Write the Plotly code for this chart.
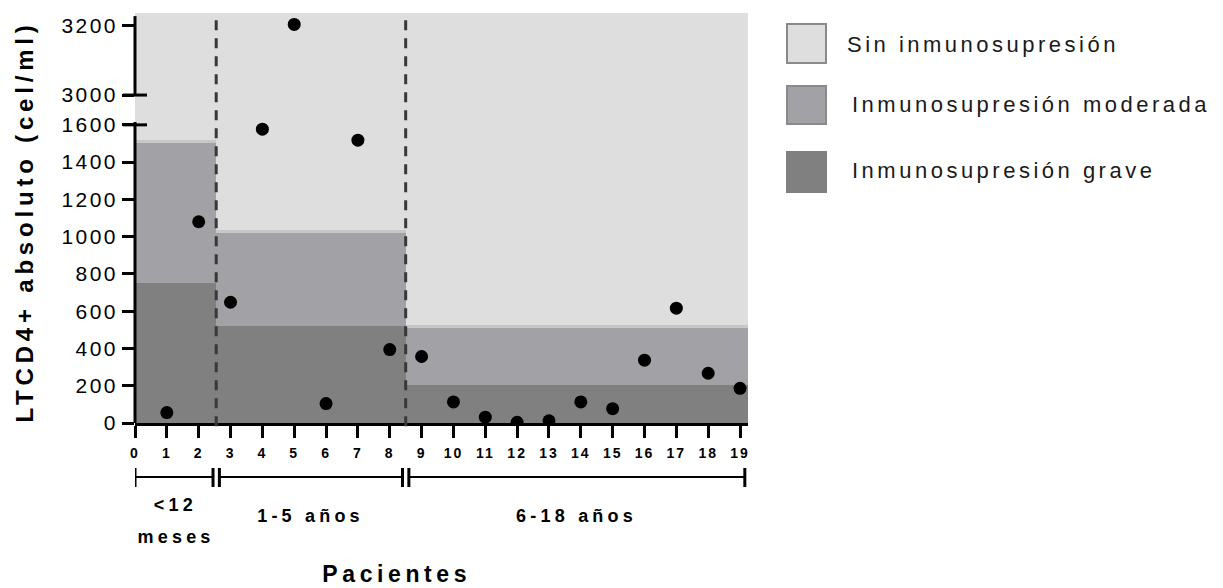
import json
import plotly.graph_objects as go

# ---------------- data ----------------
patients = list(range(1, 20))
cd4_values = [56, 1080, 648, 1577, 3204, 104, 1518, 394, 357, 113,
              31, 4, 12, 113, 77, 337, 616, 267, 186]

group_label_lines = [["&lt;12", "meses"], ["1-5 años"], ["6-18 años"]]
group_start = [0, 2.55, 8.5]
group_end = [2.55, 8.5, 19.25]
severe_top = [750, 520, 205]
moderate_top = [1505, 1020, 510]

x_ticks = list(range(0, 20))
y_ticks_low = [0, 200, 400, 600, 800, 1000, 1200, 1400, 1600]
y_ticks_high = [3000, 3200]

legend_labels = ["Sin inmunosupresión", "Inmunosupresión moderada", "Inmunosupresión grave"]

# ---------------- styles ----------------
C_SIN = "#dedede"
C_MOD = "#a2a1a5"
C_GRAVE = "#808080"
C_STRIP = "#c7c7c9"
STRIP_H = 16
FONT = "Liberation Sans, Arial, sans-serif"

LOW_RANGE = [0, 1615]
HIGH_RANGE = [2922, 3237]
SPLIT = 0.734
BREAK = 3000

centers = [(a + b) / 2 for a, b in zip(group_start, group_end)]
widths = [b - a for a, b in zip(group_start, group_end)]
mod_h = [m - s for m, s in zip(moderate_top, severe_top)]
sin_base = [m + STRIP_H for m in moderate_top]

fig = go.Figure()
bar_common = dict(x=centers, width=widths, showlegend=False, hoverinfo="skip",
                  marker_line_width=0)
fig.add_trace(go.Bar(base=[0] * 3, y=severe_top, marker_color=C_GRAVE, **bar_common))
fig.add_trace(go.Bar(base=severe_top, y=mod_h, marker_color=C_MOD, **bar_common))
fig.add_trace(go.Bar(base=moderate_top, y=[STRIP_H] * 3, marker_color=C_STRIP, **bar_common))
fig.add_trace(go.Bar(base=sin_base, y=[LOW_RANGE[1] + 500 - b for b in sin_base],
                     marker_color=C_SIN, **bar_common))
fig.add_trace(go.Bar(base=[HIGH_RANGE[0] - 50] * 3, y=[HIGH_RANGE[1] - HIGH_RANGE[0] + 100] * 3,
                     marker_color=C_SIN, yaxis="y2", **bar_common))

low_x = [p for p, v in zip(patients, cd4_values) if v < BREAK]
low_y = [v for v in cd4_values if v < BREAK]
high_x = [p for p, v in zip(patients, cd4_values) if v >= BREAK]
high_y = [v for v in cd4_values if v >= BREAK]
fig.add_trace(go.Scatter(x=low_x, y=low_y, mode="markers", showlegend=False,
                         marker=dict(size=13, color="black")))
fig.add_trace(go.Scatter(x=high_x, y=high_y, mode="markers", showlegend=False, yaxis="y2",
                         marker=dict(size=13, color="black")))

shapes = []
# broken y-axis lines
shapes.append(dict(type="line", xref="paper", yref="y", x0=0, x1=0, y0=0, y1=LOW_RANGE[1],
                   line=dict(color="black", width=3)))
shapes.append(dict(type="line", xref="paper", yref="y2", x0=0, x1=0, y0=BREAK, y1=3228,
                   line=dict(color="black", width=3)))
bw = 12 / 613
shapes.append(dict(type="line", xref="paper", yref="y", x0=-bw, x1=bw, y0=1600, y1=1600,
                   line=dict(color="black", width=3)))
shapes.append(dict(type="line", xref="paper", yref="y2", x0=-bw, x1=bw, y0=BREAK, y1=BREAK,
                   line=dict(color="black", width=3)))
# dashed group separators
for xs in group_start[1:]:
    shapes.append(dict(type="line", xref="x", yref="paper", x0=xs, x1=xs, y0=-0.008, y1=0.992,
                       layer="above", line=dict(color="#383838", width=3, dash="10px,8px")))
# group brackets
GAP = 0.1
yb, yc0, yc1 = -0.1317, -0.1098, -0.1561
for i in range(3):
    b0 = group_start[i] + (GAP if i > 0 else 0)
    b1 = group_end[i] - GAP
    shapes.append(dict(type="line", xref="x", yref="paper", x0=b0, x1=b1, y0=yb, y1=yb,
                       line=dict(color="black", width=2)))
    for bx in (b0, b1):
        shapes.append(dict(type="line", xref="x", yref="paper", x0=bx, x1=bx, y0=yc0, y1=yc1,
                           line=dict(color="black", width=3)))
# manual legend swatches
sw_x0, sw_x1 = (787 - 135) / 613, (826 - 135) / 613
sw_y = [(24, 63), (86, 124), (152, 192)]
sw_fill = [C_SIN, C_MOD, C_GRAVE]
sw_line = ["#8a8a8a", "#8a8a8a", C_GRAVE]
for (t, b), f, lc in zip(sw_y, sw_fill, sw_line):
    shapes.append(dict(type="rect", xref="paper", yref="paper", x0=sw_x0, x1=sw_x1,
                       y0=(423 - b) / 410, y1=(423 - t) / 410, fillcolor=f,
                       line=dict(color=lc, width=2)))

annotations = []
spacings = []
annotations.append(dict(text="LTCD4+ absoluto (cel/ml)", xref="paper", yref="paper",
                        x=(24 - 135) / 613, y=(423 - 222) / 410, textangle=-90, showarrow=False,
                        xanchor="center", yanchor="middle",
                        font=dict(size=24, family=FONT, color="black", weight="bold")))
spacings.append(4.8)
annotations.append(dict(text="Pacientes", xref="paper", yref="paper",
                        x=(396 - 135) / 613, y=(423 - 574) / 410, showarrow=False,
                        xanchor="center", yanchor="middle",
                        font=dict(size=23, family=FONT, color="black", weight="bold")))
spacings.append(4.6)
for i, lines in enumerate(group_label_lines):
    ys = [-0.2, -0.278] if len(lines) == 2 else [-0.226]
    for ln, yy in zip(lines, ys):
        annotations.append(dict(text=ln, xref="x", yref="paper", x=centers[i], y=yy,
                                showarrow=False, xanchor="center", yanchor="middle",
                                font=dict(size=18, family=FONT, color="black", weight="bold")))
        spacings.append(4.2)
leg_x = [845, 850, 850]
leg_y = [45, 105, 170]
for lab, lx, ly in zip(legend_labels, leg_x, leg_y):
    annotations.append(dict(text=lab, xref="paper", yref="paper", x=(lx - 135) / 613,
                            y=(423 - ly) / 410, showarrow=False, xanchor="left",
                            yanchor="middle", align="left",
                            font=dict(size=22, family=FONT, color="#1a1a1a")))
    spacings.append(3.5)

axis_tick = dict(ticks="outside", ticklen=12, tickwidth=3, tickcolor="black",
                 showgrid=False, zeroline=False, showline=False, automargin=False)
fig.update_layout(
    width=1223, height=588, autosize=False,
    margin=dict(l=135, r=475, t=13, b=165, pad=0, autoexpand=False),
    paper_bgcolor="white", plot_bgcolor="white",
    barmode="overlay", bargap=0,
    font=dict(family=FONT, color="black"),
    xaxis=dict(range=[0, 19.25], tickvals=x_ticks, ticktext=[str(t) for t in x_ticks],
               ticks="outside", ticklen=12, tickwidth=3, tickcolor="black", automargin=False,
               showline=True, linewidth=3, linecolor="black", showgrid=False, zeroline=False,
               ticklabelstandoff=3,
               tickfont=dict(size=14, family=FONT, color="black", weight="bold")),
    yaxis=dict(domain=[0, SPLIT], range=LOW_RANGE, tickvals=y_ticks_low,
               ticklabelstandoff=0,
               tickfont=dict(size=21, family=FONT, color="black"), **axis_tick),
    yaxis2=dict(domain=[SPLIT, 1], range=HIGH_RANGE, tickvals=y_ticks_high, anchor="x",
                ticklabelstandoff=0,
                tickfont=dict(size=21, family=FONT, color="black"), **axis_tick),
    shapes=shapes, annotations=annotations,
)

css = "html,body{margin:0;padding:0;overflow:hidden}"
css += ".ytick text, .y2tick text{letter-spacing:2.4px}.xtick text{letter-spacing:2px}"
css += "".join('.annotation[data-index="%d"] text{letter-spacing:%spx}' % (i, s)
               for i, s in enumerate(spacings))
post = "var s=document.createElement('style');s.textContent=%s;document.head.appendChild(s);" % json.dumps(css)

fig.write_html("out.html", post_script=post, config={"displayModeBar": False})
